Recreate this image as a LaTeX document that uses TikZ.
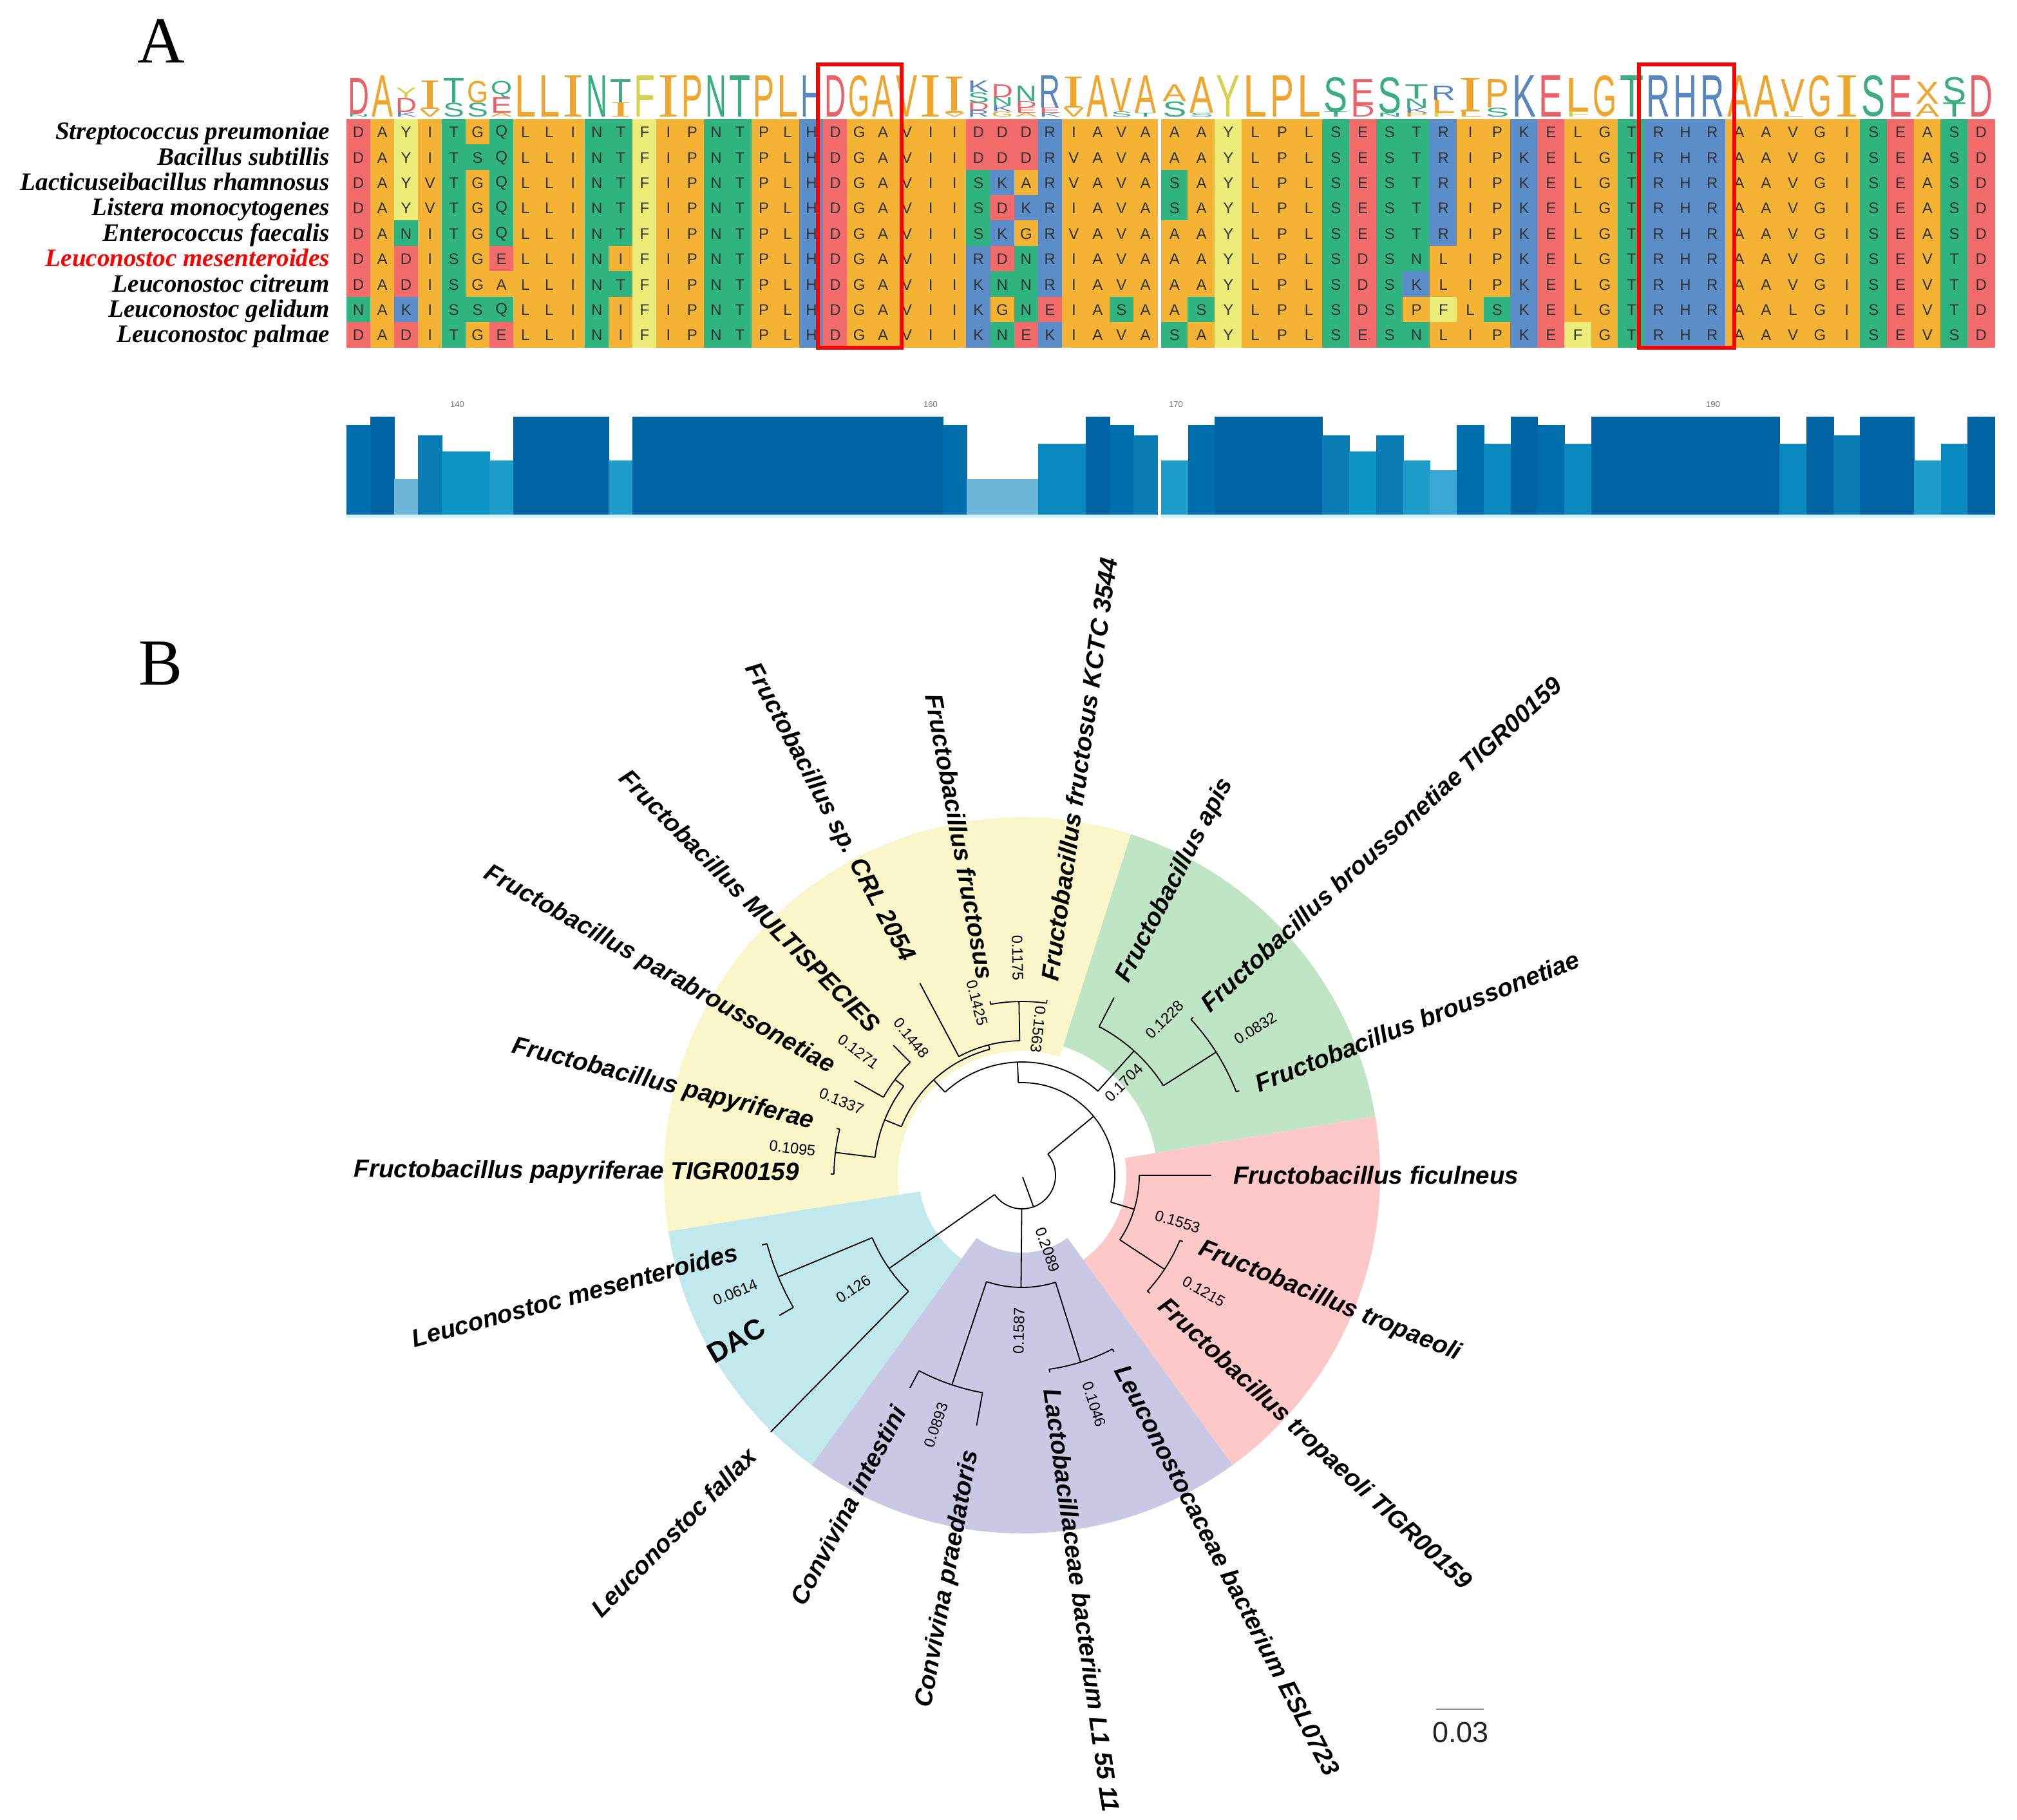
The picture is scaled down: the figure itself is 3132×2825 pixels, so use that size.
\documentclass[tikz,border=0pt]{standalone}
\usepackage{fontspec}
\setmainfont{Liberation Serif}
\setsansfont{Liberation Sans}
\usepackage{graphicx}
\usetikzlibrary{calc}
% cell colours
\definecolor{corange}{HTML}{F5B335}
\definecolor{cgreen}{HTML}{2FB47F}
\definecolor{cred}{HTML}{F26B6B}
\definecolor{cblue}{HTML}{5B8DC9}
\definecolor{cyellow}{HTML}{EEEC78}
\colorlet{cA}{corange}\colorlet{cI}{corange}\colorlet{cL}{corange}\colorlet{cV}{corange}
\colorlet{cG}{corange}\colorlet{cP}{corange}\colorlet{cM}{corange}
\colorlet{cF}{cyellow}\colorlet{cY}{cyellow}
\colorlet{cS}{cgreen}\colorlet{cT}{cgreen}\colorlet{cN}{cgreen}\colorlet{cQ}{cgreen}
\colorlet{cD}{cred}\colorlet{cE}{cred}
\colorlet{cK}{cblue}\colorlet{cR}{cblue}\colorlet{cH}{cblue}
% logo colours
\definecolor{lorange}{HTML}{EEA62E}
\definecolor{lgreen}{HTML}{3AAE80}
\definecolor{lred}{HTML}{E9626A}
\definecolor{lblue}{HTML}{5A86BF}
\definecolor{lyellow}{HTML}{D6D24E}
\colorlet{lA}{lorange}\colorlet{lI}{lorange}\colorlet{lL}{lorange}\colorlet{lV}{lorange}
\colorlet{lG}{lorange}\colorlet{lP}{lorange}\colorlet{lX}{lorange}
\colorlet{lF}{lyellow}\colorlet{lY}{lyellow}
\colorlet{lS}{lgreen}\colorlet{lT}{lgreen}\colorlet{lN}{lgreen}\colorlet{lQ}{lgreen}
\colorlet{lD}{lred}\colorlet{lE}{lred}
\colorlet{lK}{lblue}\colorlet{lR}{lblue}\colorlet{lH}{lblue}
% bar colours
\definecolor{bar100}{HTML}{0063A3}
\definecolor{bar91}{HTML}{006DAC}
\definecolor{bar81}{HTML}{0A7DB7}
\definecolor{bar72}{HTML}{0A88C0}
\definecolor{bar64}{HTML}{0E95C8}
\definecolor{bar55}{HTML}{1E9DCB}
\definecolor{bar45}{HTML}{3AA8D2}
\definecolor{bar36}{HTML}{6DB6D7}
% sector colours
\definecolor{secY}{HTML}{F9F6C9}
\definecolor{secG}{HTML}{BFE5C4}
\definecolor{secP}{HTML}{FFC8C8}
\definecolor{secV}{HTML}{C9C9E5}
\definecolor{secC}{HTML}{C1E9ED}

\newcommand\logoglyph[1]{\if I#1{\rmfamily I}\else{\sffamily #1}\fi}
\newcommand\annsec[5]{\fill[#1] (#2:#4) arc[start angle=#2,end angle=#3,radius=#4] -- (#3:#5) arc[start angle=#3,end angle=#2,radius=#5] -- cycle;}

\makeatletter
\newcommand\seqrow[2]{%
  \pgfmathsetmacro\sq@yt{185+(#1-1)*39.4}%
  \def\sq@k{0}%
  \@tfor\sq@c:=#2\do{%
    \pgfmathtruncatemacro\sq@k{\sq@k+1}%
    \ifnum\sq@k<35\relax
      \pgfmathsetmacro\sq@xl{538+(\sq@k-1)*37.03}\def\sq@w{37.03}%
    \else
      \pgfmathsetmacro\sq@xl{1803+(\sq@k-35)*41.75}\def\sq@w{41.75}%
    \fi
    \fill[fill=c\sq@c,draw=c\sq@c,line width=0.6pt] (\sq@xl,\sq@yt) rectangle ++(\sq@w,39.4);
    \node[cellres] (cell-#1-\sq@k) at (\sq@xl+0.5*\sq@w,\sq@yt+20.5) {\sq@c};
  }}
\makeatother

\begin{document}
\begin{tikzpicture}[x=1pt,y=-1pt,
  cellres/.style={inner sep=0pt,text=black!80,font=\sffamily\fontsize{24}{24}\selectfont},
  rowlab/.style={anchor=base east,inner sep=0pt,font=\rmfamily\bfseries\itshape\fontsize{39}{41}\selectfont},
  panel/.style={inner sep=0pt,font=\rmfamily\fontsize{102}{110}\selectfont},
  tick/.style={inner sep=0pt,text=black!55,font=\sffamily\fontsize{13}{13}\selectfont},
  leaf/.style={inner sep=0pt,font=\sffamily\bfseries\itshape\fontsize{38.5}{40}\selectfont},
  leafdac/.style={inner sep=0pt,font=\sffamily\bfseries\fontsize{44}{46}\selectfont},
  blen/.style={inner sep=0pt,font=\sffamily\fontsize{23.5}{25}\selectfont},
  br/.style={line width=1.8pt,black},
  redbox/.style={draw=red,line width=6pt}]
\useasboundingbox (0,0) rectangle (3132,2825);
\fill[white] (0,0) rectangle (3132,2825);

% ---------------- Panel A ----------------
\node[panel] (pA) at (250,64) {A};
\node[panel] (pB) at (250,1030) {B};

\node[rowlab] (n1) at (512,216.7) {Streptococcus preumoniae};
\node[rowlab] (n2) at (512,256.1) {Bacillus subtillis};
\node[rowlab] (n3) at (512,295.5) {Lacticuseibacillus rhamnosus};
\node[rowlab] (n4) at (512,334.9) {Listera monocytogenes};
\node[rowlab] (n5) at (512,374.3) {Enterococcus faecalis};
\node[rowlab,text=red] (n6) at (512,413.7) {Leuconostoc mesenteroides};
\node[rowlab] (n7) at (512,453.1) {Leuconostoc citreum};
\node[rowlab] (n8) at (512,492.5) {Leuconostoc gelidum};
\node[rowlab] (n9) at (512,531.9) {Leuconostoc palmae};

\seqrow{1}{DAYITGQLLINTFIPNTPLHDGAVIIDDDRIAVAAAYLPLSESTRIPKELGTRHRAAVGISEASD}
\seqrow{2}{DAYITSQLLINTFIPNTPLHDGAVIIDDDRVAVAAAYLPLSESTRIPKELGTRHRAAVGISEASD}
\seqrow{3}{DAYVTGQLLINTFIPNTPLHDGAVIISKARVAVASAYLPLSESTRIPKELGTRHRAAVGISEASD}
\seqrow{4}{DAYVTGQLLINTFIPNTPLHDGAVIISDKRIAVASAYLPLSESTRIPKELGTRHRAAVGISEASD}
\seqrow{5}{DANITGQLLINTFIPNTPLHDGAVIISKGRVAVAAAYLPLSESTRIPKELGTRHRAAVGISEASD}
\seqrow{6}{DADISGELLINIFIPNTPLHDGAVIIRDNRIAVAAAYLPLSDSNLIPKELGTRHRAAVGISEVTD}
\seqrow{7}{DADISGALLINTFIPNTPLHDGAVIIKNNRIAVAAAYLPLSDSKLIPKELGTRHRAAVGISEVTD}
\seqrow{8}{NAKISSQLLINIFIPNTPLHDGAVIIKGNEIASAASYLPLSDSPFLSKELGTRHRAALGISEVTD}
\seqrow{9}{DADITGELLINIFIPNTPLHDGAVIIKNEKIAVASAYLPLSESNLIPKEFGTRHRAAVGISEVSD}

% sequence logo
\foreach \k/\L/\yb/\h in {1/N/182/4,1/D/178/56,2/A/182/64,3/K/182/7,3/D/175/22,3/Y/153/16,
 4/V/182/12,4/I/170/44,5/S/182/22,5/T/160/38,6/S/182/22,6/G/160/34,7/A/182/6,7/E/176/24,7/Q/152/26,
 8/L/182/64,9/L/182/64,10/I/182/64,11/N/182/64,12/I/182/22,12/T/160/36,13/F/182/64,14/I/182/64,
 15/P/182/64,16/N/182/64,17/T/182/64,18/P/182/64,19/L/182/64,20/H/182/64,21/D/182/64,22/G/182/64,
 23/A/182/64,24/V/182/64,25/I/182/64,26/V/182/6,26/I/176/56,
 27/R/182/10,27/D/172/12,27/S/160/16,27/K/144/18,28/G/182/8,28/K/174/10,28/N/164/12,28/D/152/20,
 29/A/182/6,29/E/176/8,29/D/168/10,29/N/158/24,30/K/182/6,30/E/176/8,30/R/168/50,
 31/V/182/14,31/I/168/48,32/A/182/64,33/S/182/8,33/V/174/52,34/T/182/6,34/A/176/58,
 35/S/182/24,35/A/158/26,36/S/182/6,36/A/176/56,37/Y/182/64,38/L/182/64,39/P/182/64,40/L/182/64,
 41/T/182/8,41/S/174/54,42/D/182/18,42/E/164/40,43/N/182/6,43/S/176/56,
 44/P/182/6,44/K/176/8,44/N/168/14,44/T/154/22,45/F/182/6,45/L/176/20,45/R/156/22,
 46/L/182/8,46/I/174/52,47/S/182/14,47/P/168/44,48/K/182/64,49/E/182/64,50/F/182/8,50/L/174/52,
 51/G/182/64,52/T/182/64,53/R/182/64,54/H/182/64,55/R/182/64,56/A/182/64,57/A/182/64,
 58/L/182/8,58/V/174/50,59/G/182/64,60/I/182/64,61/S/182/64,62/E/182/64,
 63/A/182/20,63/X/162/34,64/T/182/22,64/S/160/40,65/D/182/64}{
  \ifnum\k<35\relax
    \pgfmathsetmacro\xc{538+(\k-0.5)*37.03}\def\ww{33}%
  \else
    \pgfmathsetmacro\xc{1803+(\k-34.5)*41.75}\def\ww{37}%
  \fi
  \node[anchor=south,inner sep=0pt,text=l\L] (lg-\k-\L) at (\xc,\yb) {\resizebox*{\ww pt}{\h pt}{\logoglyph{\L}}};
}

% red boxes
\draw[redbox] (1270,100) rectangle (1400,540);
\draw[redbox] (2545,100) rectangle (2693,540);

% conservation bars
\foreach \f [count=\k] in {91,100,36,81,64,64,55,100,100,100,100,55,100,100,100,100,100,100,100,100,100,100,100,100,100,91,36,36,36,72,72,100,91,81,55,91,100,100,100,100,81,64,81,55,45,91,72,100,91,72,100,100,100,100,100,100,100,72,100,81,100,100,55,72,100}{
  \ifnum\k<35\relax
    \pgfmathsetmacro\xl{538+(\k-1)*37.03}\def\ww{37.03}%
  \else
    \pgfmathsetmacro\xl{1803+(\k-35)*41.75}\def\ww{41.75}%
  \fi
  \fill[fill=bar\f,draw=bar\f,line width=0.5pt] (\xl,{799-1.52*\f}) rectangle ++(\ww,{1.52*\f});
}
\fill[cyan!18] (538,799) rectangle (1797,804);
\fill[cyan!18] (1803,799) rectangle (3097,804);
\node[tick] (t140) at (710,628) {140};
\node[tick] (t160) at (1445,628) {160};
\node[tick] (t170) at (1826,628) {170};
\node[tick] (t190) at (2660,628) {190};

% ---------------- Panel B ----------------
\begin{scope}[shift={(1587,1825)},y=1pt]
 \annsec{secY}{72.3}{189}{193}{556}
 \annsec{secG}{9.5}{72.3}{210}{556}
 \annsec{secP}{-54}{9.5}{162}{556}
 \annsec{secV}{-126}{-54}{120}{556}
 \annsec{secC}{189}{234}{160}{556}

 % named tree nodes
 \coordinate (rt0) at (-70:3);   \coordinate (rt) at (-70:52);
 \coordinate (xA) at (39.5:52);  \coordinate (xN) at (39.5:144);
 \coordinate (pA) at (-16.8:144); \coordinate (pN) at (-16.8:182);
 \coordinate (fiA) at (0:182);   \coordinate (fiT) at (0:294);
 \coordinate (trA) at (-33.4:182); \coordinate (trN) at (-33.4:265);
 \coordinate (yA) at (92.3:144); \coordinate (yN) at (92.3:176);
 \coordinate (gA) at (48:176);   \coordinate (gN) at (48:260);
 \coordinate (apA) at (62.6:260); \coordinate (apT) at (62.6:311);
 \coordinate (bA) at (32.4:260); \coordinate (bN) at (32.4:357);
 \coordinate (ycA) at (132.8:176); \coordinate (ycN) at (132.8:202);
 \coordinate (zA) at (104.4:202); \coordinate (zN) at (104.4:209);
 \coordinate (crA) at (118:209); \coordinate (crT) at (118:338);
 \coordinate (fA) at (91:209);   \coordinate (fN) at (91:270);
 \coordinate (wA) at (158:202);  \coordinate (wN) at (158:230);
 \coordinate (p1A) at (143:230); \coordinate (p1N) at (143:247);
 \coordinate (muA) at (134.7:247); \coordinate (muT) at (134.7:284);
 \coordinate (paA) at (150.6:247); \coordinate (paT) at (150.6:299);
 \coordinate (w2A) at (173:230); \coordinate (w2N) at (173:292);
 \coordinate (cA0) at (215:52);  \coordinate (cN) at (215:252);
 \coordinate (sA) at (202.6:252); \coordinate (sN) at (202.6:410);
 \coordinate (meA) at (195:410); \coordinate (meT) at (195:418);
 \coordinate (daA) at (210:410); \coordinate (daT) at (210:435);
 \coordinate (faA) at (225.6:252); \coordinate (faT) at (225.6:558);
 \coordinate (vA) at (-90.5:52); \coordinate (vN) at (-90.5:174);
 \coordinate (cvA) at (-108.5:174); \coordinate (cvN) at (-108.5:343);
 \coordinate (inA) at (-117.8:343); \coordinate (inT) at (-117.8:373);
 \coordinate (prA) at (-100.3:343); \coordinate (prT) at (-100.3:395);
 \coordinate (laA) at (-72.6:174); \coordinate (laN) at (-72.6:304);

 % radial branches
 \draw[br] (rt0) -- (rt);
 \draw[br] (xA) -- (xN);
 \draw[br] (pA) -- (pN);
 \draw[br] (fiA) -- (fiT);
 \draw[br] (trA) -- (trN);
 \draw[br] (yA) -- (yN);
 \draw[br] (gA) -- (gN);
 \draw[br] (apA) -- (apT);
 \draw[br] (bA) -- (bN);
 \draw[br] (ycA) -- (ycN);
 \draw[br] (zA) -- (zN);
 \draw[br] (crA) -- (crT);
 \draw[br] (fA) -- (fN);
 \draw[br] (wA) -- (wN);
 \draw[br] (p1A) -- (p1N);
 \draw[br] (muA) -- (muT);
 \draw[br] (paA) -- (paT);
 \draw[br] (w2A) -- (w2N);
 \draw[br] (cA0) -- (cN);
 \draw[br] (sA) -- (sN);
 \draw[br] (meA) -- (meT);
 \draw[br] (daA) -- (daT);
 \draw[br] (faA) -- (faT);
 \draw[br] (vA) -- (vN);
 \draw[br] (cvA) -- (cvN);
 \draw[br] (inA) -- (inT);
 \draw[br] (prA) -- (prT);
 \draw[br] (laA) -- (laN);
 % short leaf ends
 \draw[br] (-22.4:265) -- (-22.4:270);
 \draw[br] (-42.7:265) -- (-42.7:270);
 \draw[br] (21.3:357) -- (21.3:362);
 \draw[br] (42.7:357) -- (42.7:362);
 \draw[br] (81.9:270) -- (81.9:275);
 \draw[br] (100.4:270) -- (100.4:275);
 \draw[br] (165.8:292) -- (165.8:297);
 \draw[br] (179.6:292) -- (179.6:297);
 \draw[br] (-82:304) -- (-82:309);
 \draw[br] (-62.5:304) -- (-62.5:309);

 % arcs
 \draw[br] (xA) arc[start angle=39.5,end angle=-145,radius=52];
 \draw[br] (pA) arc[start angle=-16.8,end angle=92.3,radius=144];
 \draw[br] (trA) arc[start angle=-33.4,end angle=0,radius=182];
 \draw[br] (-42.7:265) arc[start angle=-42.7,end angle=-22.4,radius=265];
 \draw[br] (gA) arc[start angle=48,end angle=132.8,radius=176];
 \draw[br] (bA) arc[start angle=32.4,end angle=62.6,radius=260];
 \draw[br] (21.3:357) arc[start angle=21.3,end angle=42.7,radius=357];
 \draw[br] (zA) arc[start angle=104.4,end angle=158,radius=202];
 \draw[br] (fA) arc[start angle=91,end angle=118,radius=209];
 \draw[br] (81.9:270) arc[start angle=81.9,end angle=100.4,radius=270];
 \draw[br] (p1A) arc[start angle=143,end angle=173,radius=230];
 \draw[br] (muA) arc[start angle=134.7,end angle=150.6,radius=247];
 \draw[br] (165.8:292) arc[start angle=165.8,end angle=179.6,radius=292];
 \draw[br] (sA) arc[start angle=202.6,end angle=225.6,radius=252];
 \draw[br] (meA) arc[start angle=195,end angle=210,radius=410];
 \draw[br] (cvA) arc[start angle=-108.5,end angle=-72.6,radius=174];
 \draw[br] (inA) arc[start angle=-117.8,end angle=-100.3,radius=343];
 \draw[br] (-82:304) arc[start angle=-82,end angle=-62.5,radius=304];

 % leaf labels
 \node[leaf,anchor=west,rotate=82] (t1) at (82:305) {Fructobacillus fructosus KCTC 3544};
 \node[leaf,anchor=east,rotate=-79.6] (t2) at (100.4:310) {Fructobacillus fructosus};
 \node[leaf,anchor=east,rotate=-62] (t3) at (118:378) {Fructobacillus sp. CRL 2054};
 \node[leaf,anchor=east,rotate=-45.3] (t4) at (134.7:322) {Fructobacillus MULTISPECIES};
 \node[leaf,anchor=east,rotate=-29.5] (t5) at (150.5:338) {Fructobacillus parabroussonetiae};
 \node[leaf,anchor=east,rotate=-14.2] (t6) at (165.8:334) {Fructobacillus papyriferae};
 \node[leaf,anchor=east,rotate=-0.4] (t7) at (179.6:346) {Fructobacillus papyriferae TIGR00159};
 \node[leaf,anchor=west,rotate=62.6] (t8) at (62.6:340) {Fructobacillus apis};
 \node[leaf,anchor=west,rotate=42.7] (t9) at (42.7:385) {Fructobacillus broussonetiae TIGR00159};
 \node[leaf,anchor=west,rotate=21.3] (t10) at (21.3:390) {Fructobacillus broussonetiae};
 \node[leaf,anchor=west] (t11) at (0:328) {Fructobacillus ficulneus};
 \node[leaf,anchor=west,rotate=-22.3] (t12) at (-22.3:298) {Fructobacillus tropaeoli};
 \node[leaf,anchor=west,rotate=-42.7] (t13) at (-42.7:294) {Fructobacillus tropaeoli TIGR00159};
 \node[leaf,anchor=west,rotate=-62.5] (t14) at (-62.5:335) {Leuconostocaceae bacterium ESL0723};
 \node[leaf,anchor=west,rotate=-82] (t15) at (-82:335) {Lactobacillaceae bacterium L1 55 11};
 \node[leaf,anchor=east,rotate=79.6] (t16) at (-100.4:435) {Convivina praedatoris};
 \node[leaf,anchor=east,rotate=62.2] (t17) at (-117.8:408) {Convivina intestini};
 \node[leaf,anchor=east,rotate=45.7] (t18) at (225.7:600) {Leuconostoc fallax};
 \node[leafdac,anchor=east,rotate=30] (t19) at (210:465) {DAC};
 \node[leaf,anchor=east,rotate=15] (t20) at (195:458) {Leuconostoc mesenteroides};

 % branch length labels
 \node[blen,rotate=-88.8] (b1) at (91.2:338) {0.1175};
 \node[blen,rotate=-75.4] (b2) at (104.6:277) {0.1425};
 \node[blen,rotate=-96.3] (b3) at (83.7:228) {0.1563};
 \node[blen,rotate=-51.1] (b4) at (128.9:274) {0.1448};
 \node[blen,rotate=-37.1] (b5) at (142.9:318) {0.1271};
 \node[blen,rotate=-22.3] (b6) at (157.7:303) {0.1337};
 \node[blen,rotate=-6.7] (b7) at (173.3:359) {0.1095};
 \node[blen,rotate=45] (b8) at (42.3:214) {0.1704};
 \node[blen,rotate=45] (b9) at (47.5:328) {0.1228};
 \node[blen,rotate=32] (b10) at (32.2:428) {0.0832};
 \node[blen,rotate=-17] (b11) at (-16.6:252) {0.1553};
 \node[blen,rotate=-30] (b12) at (-32.6:335) {0.1215};
 \node[blen,rotate=-71] (b13) at (-71:122) {0.2089};
 \node[blen,rotate=88.8] (b14) at (-91.2:241) {0.1587};
 \node[blen,rotate=-72.5] (b15) at (-72.5:373) {0.1046};
 \node[blen,rotate=71] (b16) at (-109:410) {0.0893};
 \node[blen,rotate=34] (b17) at (214:316) {0.126};
 \node[blen,rotate=22.2] (b18) at (202.2:481) {0.0614};
\end{scope}

% scale bar
\coordinate (sb1) at (2230,2654);
\coordinate (sb2) at (2304,2654);
\draw[black!45,line width=1.5pt] (sb1) -- (sb2);
\node[inner sep=0pt,text=black!85,font=\sffamily\fontsize{45}{46}\selectfont] (sbl) at (2268,2690) {0.03};
\end{tikzpicture}
\end{document}
